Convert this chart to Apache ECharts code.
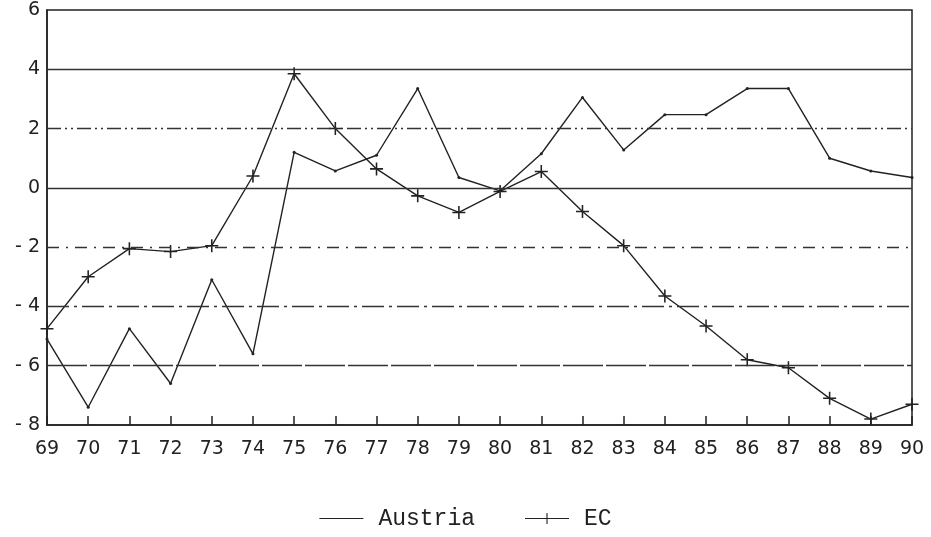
<!DOCTYPE html>
<html>
<head>
<meta charset="utf-8">
<script src="https://cdn.jsdelivr.net/npm/echarts@6/dist/echarts.min.js"></script>
<style>
  html, body { margin: 0; padding: 0; background: #fff; }
  #chart { width: 931px; height: 537px; }
</style>
</head>
<body>
<div id="chart"></div>
<script>
// 年份
const years = ['69', '70', '71', '72', '73', '74', '75', '76', '77', '78', '79',
  '80', '81', '82', '83', '84', '85', '86', '87', '88', '89', '90']
// Austria
const austria = [-5.1, -7.4, -4.75, -6.6, -3.1, -5.6, 1.2, 0.57, 1.1, 3.35, 0.35,
  -0.1, 1.15, 3.05, 1.28, 2.47, 2.47, 3.35, 3.35, 1.0, 0.57, 0.35]
// EC
const ec = [-4.75, -3.0, -2.05, -2.15, -1.95, 0.4, 3.85, 2.0, 0.64, -0.27, -0.83,
  -0.12, 0.55, -0.8, -1.95, -3.65, -4.66, -5.8, -6.07, -7.1, -7.8, -7.3]
// 网格线位置
const gridValues = [4, 2, 0, -2, -4, -6]
const gridDash = ['solid', [14, 4, 2, 4, 2, 4], 'solid', [12, 7, 2, 7], [22, 5, 3, 5], [40, 3]]

const plusIcon = 'path://M0,4.4H10V5.6H0Z M4.4,0H5.6V10H4.4Z'
const lineIcon = 'path://M0,4.5H40V5.5H0Z'
const lineplusIcon = 'path://M0,4.5H40V5.5H0Z M19.5,0H20.5V10H19.5Z'

const myChart = echarts.init(document.querySelector('#chart'))

const option = {
  animation: false,
  grid: {
    left: 47,
    right: 19,
    top: 10,
    bottom: 112,
    show: true,
    borderColor: '#222',
    borderWidth: 1.5
  },
  xAxis: {
    type: 'category',
    data: years,
    boundaryGap: false,
    axisLine: { onZero: false, lineStyle: { color: '#222', width: 1.5 } },
    // 刻度朝内
    axisTick: { show: true, inside: true, length: 9, lineStyle: { color: '#222', width: 1.5 } },
    axisLabel: {
      color: '#222',
      fontFamily: 'DejaVu Sans',
      fontSize: 19,
      margin: 15
    },
    splitLine: { show: false }
  },
  yAxis: {
    type: 'value',
    min: -8,
    max: 6,
    interval: 2,
    axisLine: { show: true, lineStyle: { color: '#222', width: 1.5 } },
    axisTick: { show: false },
    axisLabel: {
      color: '#222',
      fontFamily: 'DejaVu Sans',
      fontSize: 19,
      margin: 7,
      formatter: v => v < 0 ? '- ' + Math.abs(v) : String(v)
    },
    splitLine: { show: false }
  },
  legend: {
    bottom: 2,
    left: 'center',
    itemGap: 50,
    itemWidth: 44,
    itemHeight: 11,
    textStyle: {
      fontFamily: 'Liberation Mono',
      fontSize: 23,
      color: '#222',
      padding: [0, 0, 0, 10]
    },
    data: [
      { name: 'Austria', icon: lineIcon },
      { name: 'EC', icon: lineplusIcon }
    ]
  },
  series: [
    {
      name: 'Austria',
      type: 'line',
      data: austria,
      symbol: 'circle',
      symbolSize: 3,
      itemStyle: { color: '#222' },
      lineStyle: { color: '#222', width: 1.4 },
      markLine: {
        silent: true,
        symbol: 'none',
        label: { show: false },
        data: gridValues.map((v, i) => ({
          yAxis: v,
          lineStyle: { color: '#333', width: 1.3, type: gridDash[i] }
        }))
      }
    },
    {
      name: 'EC',
      type: 'line',
      data: ec,
      symbol: plusIcon,
      symbolSize: 13,
      itemStyle: { color: '#222' },
      lineStyle: { color: '#222', width: 1.4 }
    }
  ]
}

myChart.setOption(option)
</script>
</body>
</html>
